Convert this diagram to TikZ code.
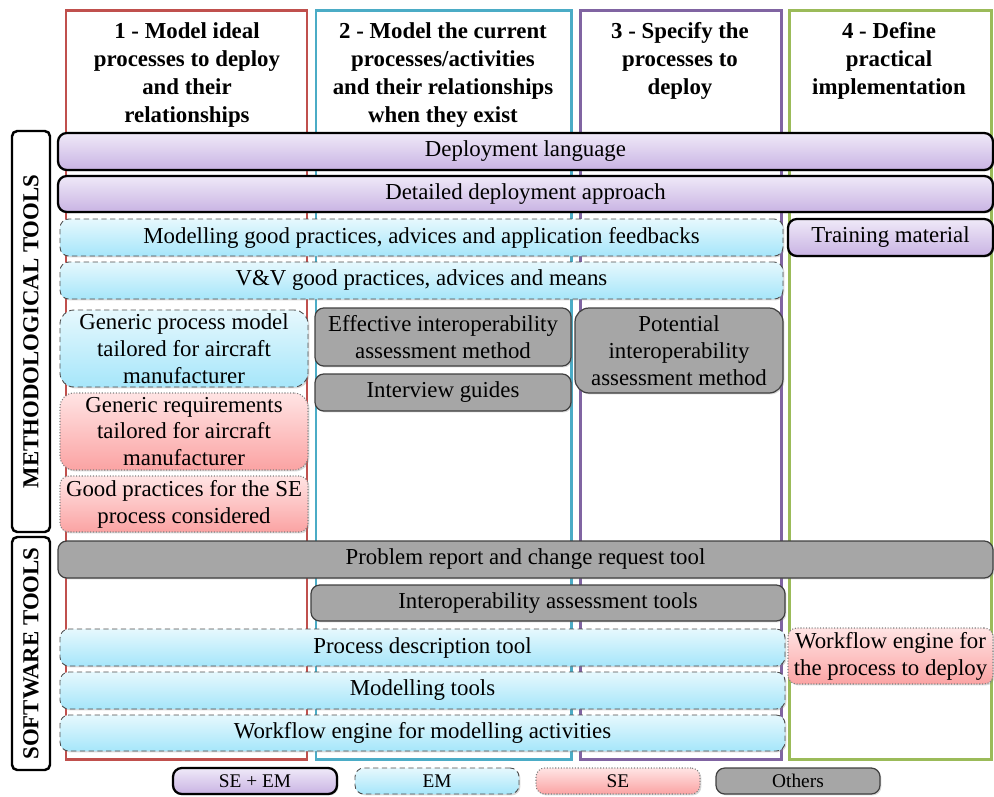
\documentclass[tikz,border=0pt]{standalone}
\usepackage{fontspec}
\setmainfont{Liberation Serif}
\usetikzlibrary{shadows}
\definecolor{colred}{HTML}{C0504D}
\definecolor{colteal}{HTML}{4BACC6}
\definecolor{colpurple}{HTML}{8064A2}
\definecolor{colgreen}{HTML}{9BBB59}
\definecolor{purtop}{HTML}{EFE9F8}
\definecolor{purbot}{HTML}{C9B3E3}
\definecolor{cyantop}{HTML}{E6F8FD}
\definecolor{cyanbot}{HTML}{A6E6FA}
\definecolor{pinktop}{HTML}{FFE4E4}
\definecolor{pinkbot}{HTML}{FBA3A3}
\definecolor{othgray}{HTML}{A6A6A6}
\begin{document}
\begin{tikzpicture}[x=0.02cm,y=-0.02cm,
        font=\fontsize{13}{15.3}\selectfont,
        spans/.style n args={4}{minimum width={(#3-#1)*0.02cm},minimum height={(#4-#2)*0.02cm},
            at={({(#1+#3)/2},{(#2+#4)/2+1})}},
        colbox/.style={draw,line width=1.7pt,inner sep=0pt},
        head/.style={align=center,anchor=north,inner sep=0pt,font=\fontsize{13}{15.9}\selectfont\bfseries},
        tool/.style={inner sep=0pt,align=center,rounded corners=5pt,
            drop shadow={shadow xshift=0.8pt,shadow yshift=-0.8pt,opacity=0.3}},
        seem/.style={tool,top color=purtop,bottom color=purbot,draw=black,line width=1.3pt},
        em/.style={tool,top color=cyantop,bottom color=cyanbot,draw=black!70,densely dashed,line width=0.5pt},
        se/.style={tool,top color=pinktop,bottom color=pinkbot,draw=black!50,densely dotted,line width=0.6pt},
        others/.style={tool,fill=othgray,draw=black!75,line width=0.7pt},
        legend/.style={font=\fontsize{11}{13}\selectfont},
        sidebox/.style={draw,line width=1.4pt,rounded corners=3pt,inner sep=0pt}]
    \useasboundingbox (0,0) rectangle (994,796);
    %% Columns
    \node[colbox,draw=colred,spans={66}{9}{307}{758}] (col1) {};
    \node[colbox,draw=colteal,spans={316}{9}{571}{758}] (col2) {};
    \node[colbox,draw=colpurple,spans={580}{9}{781}{758}] (col3) {};
    \node[colbox,draw=colgreen,spans={789}{9}{991}{758}] (col4) {};
    \node[head] (head1) at (187,22) {1 - Model ideal\\processes to deploy\\and their\\relationships};
    \node[head] (head2) at (443,22) {2 - Model the current\\processes/activities\\and their relationships\\when they exist};
    \node[head] (head3) at (680,22) {3 - Specify the\\processes to\\deploy};
    \node[head] (head4) at (889,22) {4 - Define\\practical\\implementation};
    %% Side labels
    \node[sidebox,spans={12}{130}{50}{531}] (methbox) {};
    \node[rotate=90,font=\fontsize{13}{15}\selectfont\bfseries] (methtext) at (methbox.center) {METHODOLOGICAL TOOLS};
    \node[sidebox,spans={12}{536}{50}{769}] (softbox) {};
    \node[rotate=90,font=\fontsize{13}{15}\selectfont\bfseries] (softtext) at (softbox.center) {SOFTWARE TOOLS};
    %% Methodological tools
    \node[seem,spans={58}{132}{993}{169}] (deploy) {Deployment language};
    \node[seem,spans={58}{175}{993}{211}] (detailed) {Detailed deployment approach};
    \node[em,spans={60}{218}{783}{255}] (modgood) {Modelling good practices, advices and application feedbacks};
    \node[seem,spans={788}{218}{993}{255}] (training) {Training material};
    \node[em,spans={60}{261}{783}{298}] (vvgood) {V\&V good practices, advices and means};
    \node[em,rounded corners=8pt,spans={60}{309}{308}{386}] (genproc) {Generic process model\\tailored for aircraft\\manufacturer};
    \node[others,spans={315}{307}{571}{365}] (effint) {Effective interoperability\\assessment method};
    \node[others,spans={315}{373}{571}{410}] (interview) {Interview guides};
    \node[others,rounded corners=8pt,spans={575}{307}{783}{392}] (potint) {Potential\\interoperability\\assessment method};
    \node[se,rounded corners=8pt,spans={60}{392}{308}{469}] (genreq) {Generic requirements\\tailored for aircraft\\manufacturer};
    \node[se,spans={60}{475}{308}{531}] (goodse) {Good practices for the SE\\process considered};
    %% Software tools
    \node[others,spans={58}{540}{993}{577}] (problem) {Problem report and change request tool};
    \node[others,spans={311}{584}{785}{620}] (inttools) {Interoperability assessment tools};
    \node[em,spans={60}{628}{785}{665}] (procdesc) {Process description tool};
    \node[se,spans={788}{627}{993}{683}] (wfdeploy) {Workflow engine for\\the process to deploy};
    \node[em,spans={60}{671}{785}{708}] (modtools) {Modelling tools};
    \node[em,spans={60}{714}{785}{750}] (wfmodel) {Workflow engine for modelling activities};
    %% Legend
    \node[seem,legend,spans={173}{767}{337}{793}] (legseem) {SE + EM};
    \node[em,legend,spans={355}{767}{519}{793}] (legem) {EM};
    \node[se,legend,spans={536}{767}{700}{793}] (legse) {SE};
    \node[others,legend,spans={716}{767}{880}{793}] (legoth) {Others};
\end{tikzpicture}
\end{document}
